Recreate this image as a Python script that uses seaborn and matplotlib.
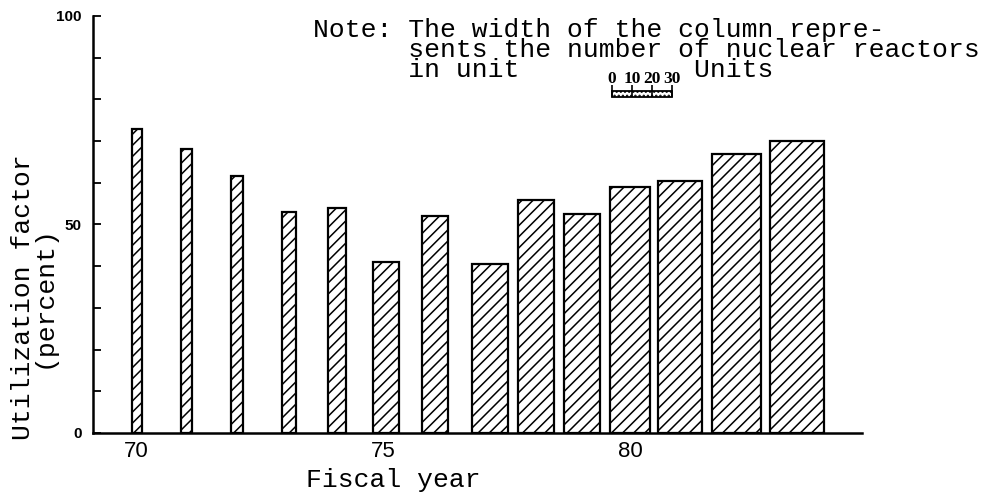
import matplotlib
matplotlib.use("Agg")
import matplotlib.pyplot as plt
import seaborn as sns

# data
fiscal_year = [70, 71, 72, 73, 74, 75, 76, 77, 78, 79, 80, 81, 82, 83]
bar_center = [70.0, 71.01, 72.03, 73.09, 74.06, 75.05, 76.05, 77.17, 78.09, 79.02, 80.0, 81.02, 82.16, 83.39]
utilization = [72.8, 68.0, 61.7, 53.1, 54.0, 41.1, 52.0, 40.5, 55.9, 52.4, 58.9, 60.4, 66.9, 70.1]
reactor_units = [5, 6, 6, 7, 9, 13, 13, 18, 18, 18, 20, 22, 25, 27]
scale_units = [0, 10, 20, 30]
x_ticks = [70, 75, 80]
x_tick_labels = ["70", "75", "80"]
y_ticks = list(range(0, 101, 10))
y_tick_labels = ["0", "", "", "", "", "50", "", "", "", "", "100"]

note = ("Note: The width of the column repre-\n"
        "      sents the number of nuclear reactors\n"
        "      in unit           Units")

sns.set_style("ticks", {"axes.edgecolor": "black", "xtick.color": "black",
                        "ytick.color": "black", "text.color": "black",
                        "axes.labelcolor": "black"})
plt.rcParams["font.family"] = ["DejaVu Sans"]
plt.rcParams["hatch.linewidth"] = 1.1
plt.rcParams["hatch.color"] = "black"

MONO = "Liberation Mono"
YEARS_PER_UNIT = 0.0405  # column width per reactor unit

fig = plt.figure(figsize=(9.87, 4.99), dpi=100)
ax = fig.add_axes([0.0942, 0.1323, 0.7791, 0.8357])

widths = [u * YEARS_PER_UNIT for u in reactor_units]
ax.bar(bar_center, utilization, width=widths, color="white",
       edgecolor="black", linewidth=1.6, hatch="///")

# width key (0-30 units)
key_left = 79.635
key_x = [key_left + u * YEARS_PER_UNIT for u in scale_units]
ax.bar(key_left, 1.5, width=scale_units[-1] * YEARS_PER_UNIT, bottom=80.6,
       align="edge", color="white", edgecolor="black", linewidth=1.3, hatch="....")
ax.vlines(key_x, 80.6, 83.4, color="black", linewidth=1.2)
for xv, u in zip(key_x, scale_units):
    ax.text(xv, 84.0, str(u), ha="center", va="baseline", fontsize=12.5,
            fontweight="bold", family="Liberation Serif")

ax.set_xlim(69.114, 84.703)
ax.set_ylim(0, 100)
ax.set_xticks(x_ticks)
ax.set_xticklabels(x_tick_labels)
ax.set_yticks(y_ticks)
ax.set_yticklabels(y_tick_labels)
ax.tick_params(axis="y", direction="in", length=6, width=1.3, pad=8, labelsize=11)
ax.tick_params(axis="x", length=0, pad=6, labelsize=16)
for lab in ax.get_yticklabels():
    lab.set_fontweight("bold")
    lab.set_family("Liberation Sans")
for lab in ax.get_xticklabels():
    lab.set_family("Liberation Sans")

sns.despine(ax=ax)
ax.spines["left"].set_linewidth(1.8)
ax.spines["bottom"].set_linewidth(1.8)

ax.set_xlabel("Fiscal year", fontsize=19, family=MONO)
ax.xaxis.set_label_coords(0.39, -0.084)
ax.set_ylabel("Utilization factor\n(percent)", fontsize=19, family=MONO, linespacing=0.8)
ax.yaxis.set_label_coords(-0.049, 0.326)

# baseline anchor of a multi-line text sits on its last line
fig.text(313 / 987, 1 - 77 / 499, note, family=MONO, fontsize=19,
         va="baseline", linespacing=0.8)

fig.savefig("out.png", dpi=100)
